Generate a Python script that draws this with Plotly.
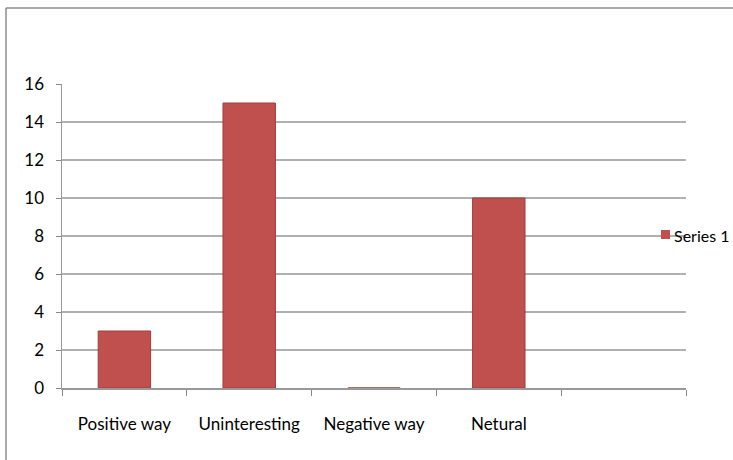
import plotly.graph_objects as go

categories = ["Positive way", "Uninteresting", "Negative way", "Netural", " "]
values = [3, 15, 0, 10, None]
series_name = "Series 1"
y_ticks = [0, 2, 4, 6, 8, 10, 12, 14, 16]

W, H = 733, 460
L, R, T, B = 62, 47, 84, 72
pw, ph = W - L - R, H - T - B

def px(x):
    return (x - L) / pw

def py(y):
    return (H - B - y) / ph

BAR = "#C0504D"
FONT = "Lato"

fig = go.Figure()
fig.add_trace(go.Bar(
    x=categories, y=values, name=series_name,
    marker=dict(color=BAR, line=dict(color="#9e3e3b", width=1)),
    showlegend=False, hoverinfo="skip",
))

fig.update_layout(
    width=W, height=H,
    margin=dict(l=L, r=R, t=T, b=B, pad=0),
    paper_bgcolor="white", plot_bgcolor="white",
    bargap=0.58,
    font=dict(family=FONT, size=16, color="#000"),
    xaxis=dict(
        type="category", categoryorder="array", categoryarray=categories,
        range=[-0.5, 4.5], fixedrange=True,
        showgrid=False, showline=True, linecolor="#999", linewidth=2,
        ticks="outside", tickson="boundaries", ticklen=6, tickcolor="#888",
        ticklabelstandoff=20, tickfont=dict(family=FONT, size=17),
    ),
    yaxis=dict(
        range=[0, 16], tickvals=y_ticks, fixedrange=True,
        showgrid=True, gridcolor="#b0b0b0", gridwidth=2,
        showline=True, linecolor="#999", linewidth=1.5,
        ticks="outside", ticklen=5, tickcolor="#888",
        ticklabelstandoff=8, tickfont=dict(family=FONT, size=17),
        zeroline=False,
    ),
    shapes=[
        dict(type="line", xref="paper", yref="paper",
             x0=px(6), x1=px(733), y0=py(8), y1=py(8),
             line=dict(color="#8c8c8c", width=1.5)),
        dict(type="line", xref="paper", yref="paper",
             x0=px(6), x1=px(6), y0=py(8), y1=py(460),
             line=dict(color="#8c8c8c", width=1.5)),
        dict(type="rect", xref="paper", yref="paper",
             x0=px(661), x1=px(670), y0=py(239), y1=py(230),
             fillcolor=BAR, line=dict(width=0)),
    ],
    annotations=[
        dict(text=series_name, xref="paper", yref="paper",
             x=px(672), y=py(235), xanchor="left", yanchor="middle",
             showarrow=False, font=dict(family=FONT, size=16, color="#000")),
    ],
)

fig.write_html(
    "out.html",
    config={"displayModeBar": False, "staticPlot": True},
    post_script="document.body.style.margin='0';document.body.style.overflow='hidden';",
)
